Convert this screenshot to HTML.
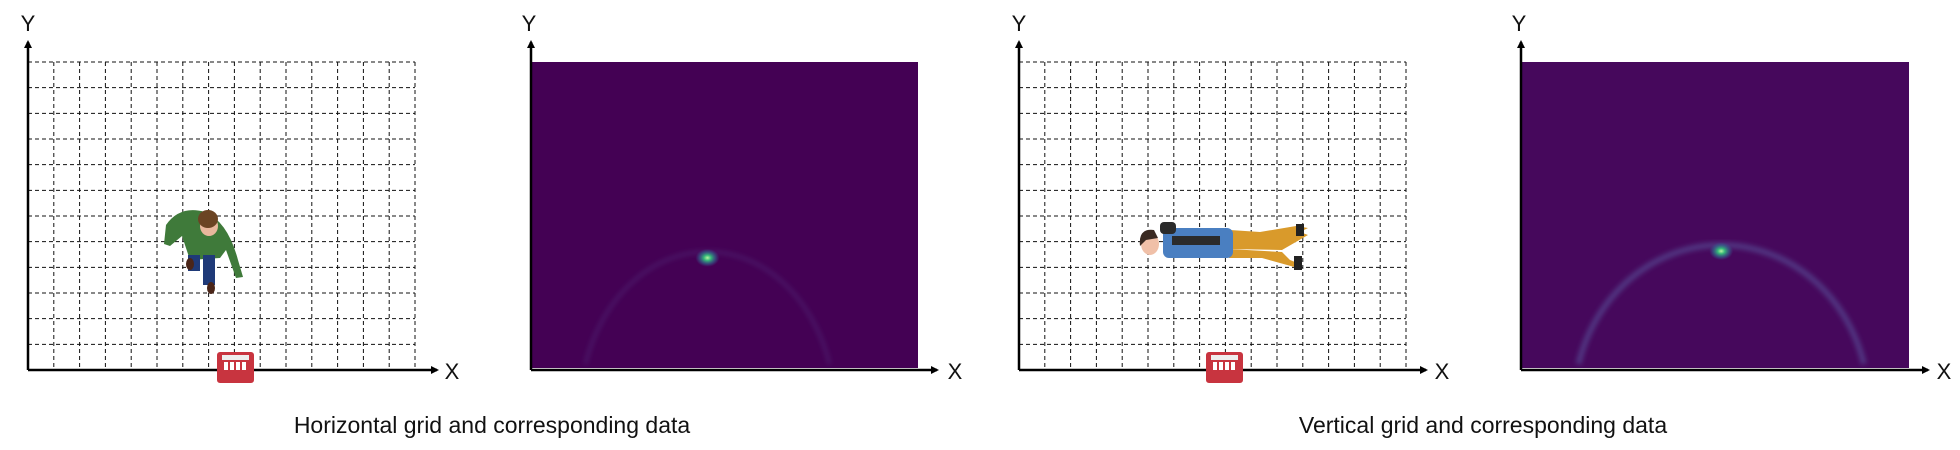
<!DOCTYPE html>
<html style="margin:0;width:1960px;height:450px;overflow:hidden"><head><meta charset="utf-8"><style>
body{margin:0;background:#fff;width:1960px;height:450px;overflow:hidden;font-family:"Liberation Sans",sans-serif}
</style></head><body>
<svg id="fig" width="1960" height="450" viewBox="0 0 1960 450" xmlns="http://www.w3.org/2000/svg" style="display:block;overflow:hidden">
<defs>
<marker id="ah" markerWidth="8" markerHeight="8" refX="6" refY="4" orient="auto" markerUnits="userSpaceOnUse"><path d="M0,0 L8,4 L0,8 z" fill="#000"/></marker>
<radialGradient id="glow"><stop offset="0" stop-color="#b5f5a0"/><stop offset="0.3" stop-color="#35b779"/><stop offset="0.7" stop-color="#31688e" stop-opacity="0.6"/><stop offset="1" stop-color="#3b528b" stop-opacity="0"/></radialGradient>
<filter id="blur" x="-5%" y="-5%" width="110%" height="110%"><feGaussianBlur stdDeviation="2.5"/></filter>
</defs>
<g id="layer"></g>
</svg>
<script>
// data
const gridCols = [15, 15];
const gridRows = [12, 12];
const hotspotX = [0.456, 0.516];   // fraction of heatmap width
const hotspotY = [0.640, 0.618];   // fraction of heatmap height from top
const arcStrength = [0.18, 0.42];
const captions = ["Horizontal grid and corresponding data", "Vertical grid and corresponding data"];

const NS = "http://www.w3.org/2000/svg";
const layer = document.getElementById('layer');
function mk(tag, attrs, parent){const e=document.createElementNS(NS,tag);for(const k in attrs)e.setAttribute(k,attrs[k]);(parent||layer).appendChild(e);return e;}
function txt(x,y,s,size,anchor){const t=mk('text',{x:x,y:y,'font-size':size,'text-anchor':anchor||'middle','font-family':'Liberation Sans, sans-serif',fill:'#111'});t.textContent=s;return t;}

const gridPanels=[{x0:28,x1:415,ax:437,xl:452},{x0:1019,x1:1406,ax:1426,xl:1442}];
const heatPanels=[{x0:531,x1:918,ax:937,xl:955,fill:'#440154'},{x0:1521,x1:1909,ax:1928,xl:1944,fill:'#46085c'}];
const yTop=62,yBot=370;

gridPanels.forEach((p,i)=>{
  const g=mk('g',{});
  
  
  const nc=gridCols[i], nr=gridRows[i];
  for(let c=1;c<=nc;c++){const x=p.x0+(p.x1-p.x0)*c/nc;mk('line',{x1:x,y1:yTop,x2:x,y2:yBot,stroke:'#111','stroke-width':1,'stroke-dasharray':'4,3'},g);}
  for(let r=0;r<nr;r++){const y=yTop+(yBot-yTop)*r/nr;mk('line',{x1:p.x0,y1:y,x2:p.x1,y2:y,stroke:'#111','stroke-width':1,'stroke-dasharray':'4,3'},g);}
  const ya=mk('line',{x1:p.x0,y1:yBot,x2:p.x0,y2:42,stroke:'#000','stroke-width':2.5,'marker-end':'url(#ah)'},g);
  
  const xa=mk('line',{x1:p.x0,y1:yBot,x2:p.ax,y2:yBot,stroke:'#000','stroke-width':2.5,'marker-end':'url(#ah)'},g);
  
  const yl=txt(p.x0,31,'Y',22);
  const xl=txt(p.xl,379,'X',22);
  const rx=[217,1206][i];
  const rad=mk('g',{},g);
  
  mk('rect',{x:rx,y:352,width:37,height:31,rx:3,fill:'#c8343f'},rad);
  mk('rect',{x:rx+5,y:355,width:27,height:5,fill:'#eee'},rad);
  for(let k=0;k<4;k++)mk('rect',{x:rx+7+k*6,y:362,width:4,height:8,fill:'#fff'},rad);
});

(function(){const g=mk('g',{});
 mk('path',{d:'M166,225 Q180,205 205,212 Q228,222 238,260 L243,277 L236,278 L226,250 L220,258 L190,260 L182,236 L170,246 L164,244 Z',fill:'#3f7a3a'},g);
 mk('rect',{x:203,y:255,width:12,height:30,fill:'#1f3a78'},g);
 mk('rect',{x:188,y:255,width:12,height:16,fill:'#1f3a78'},g);
 mk('ellipse',{cx:211,cy:288,rx:4,ry:6,fill:'#4a2518'},g);
 mk('ellipse',{cx:190,cy:264,rx:4,ry:6,fill:'#4a2518'},g);
 mk('ellipse',{cx:209,cy:226,rx:9,ry:10,fill:'#e8b79c'},g);
 mk('ellipse',{cx:208,cy:219,rx:10,ry:9,fill:'#6b4423'},g);})();
(function(){const g=mk('g',{});
 mk('path',{d:'M1229,249 L1282,250 L1308,235 L1300,232 L1308,228 L1296,226 L1260,232 L1230,230 Z',fill:'#d99a2b'},g);
 mk('path',{d:'M1229,249 L1282,252 L1290,260 L1300,264 L1298,268 L1262,258 L1229,258 Z',fill:'#d99a2b'},g);
 mk('rect',{x:1163,y:228,width:70,height:30,rx:6,fill:'#4a7fc1'},g);
 mk('rect',{x:1172,y:236,width:48,height:9,fill:'#2b2b2b'},g);
 mk('rect',{x:1160,y:222,width:16,height:12,rx:4,fill:'#2b2b2b'},g);
 mk('ellipse',{cx:1150,cy:244,rx:9,ry:11,fill:'#f0c0a8'},g);
 mk('path',{d:'M1140,246 Q1138,228 1154,230 L1158,238 L1146,240 Z',fill:'#3a2a22'},g);
 mk('rect',{x:1296,y:224,width:8,height:12,fill:'#222'},g);
 mk('rect',{x:1294,y:256,width:8,height:14,fill:'#222'},g);})();

heatPanels.forEach((p,i)=>{
  const g=mk('g',{});
  
  
  const w=p.x1-p.x0,h=yBot-2-yTop;
  mk('rect',{x:p.x0,y:yTop,width:w,height:h,fill:p.fill},g);
  const hx=p.x0+w*hotspotX[i], hy=yTop+h*hotspotY[i];
  const cx=hx, cy=hy+h*0.5, rx=w*(i?0.38:0.33), ry=h*0.52;
  const by=yTop+h-4, dy=(by-cy)/ry, dx=rx*Math.sqrt(Math.max(0,1-dy*dy));
  const arc=mk('path',{d:`M${cx-dx},${by} A${rx},${ry} 0 0 1 ${cx+dx},${by}`,fill:'none',stroke:'#5c6fb0','stroke-opacity':arcStrength[i],'stroke-width':i?6:4,filter:'url(#blur)'},g);
  
  const hs=mk('ellipse',{cx:hx,cy:hy,rx:12,ry:9,fill:'url(#glow)'},g);
  
  const ya=mk('line',{x1:p.x0,y1:yBot,x2:p.x0,y2:42,stroke:'#000','stroke-width':2.5,'marker-end':'url(#ah)'},g);
  
  const xa=mk('line',{x1:p.x0,y1:yBot,x2:p.ax,y2:yBot,stroke:'#000','stroke-width':2.5,'marker-end':'url(#ah)'},g);
  
  const yl=txt(p.x0-2,31,'Y',22);
  const xl=txt(p.xl,379,'X',22);
});

const c1=txt(492,433,captions[0],23);


const c2=txt(1483,433,captions[1],23);


</script>
</body></html>
